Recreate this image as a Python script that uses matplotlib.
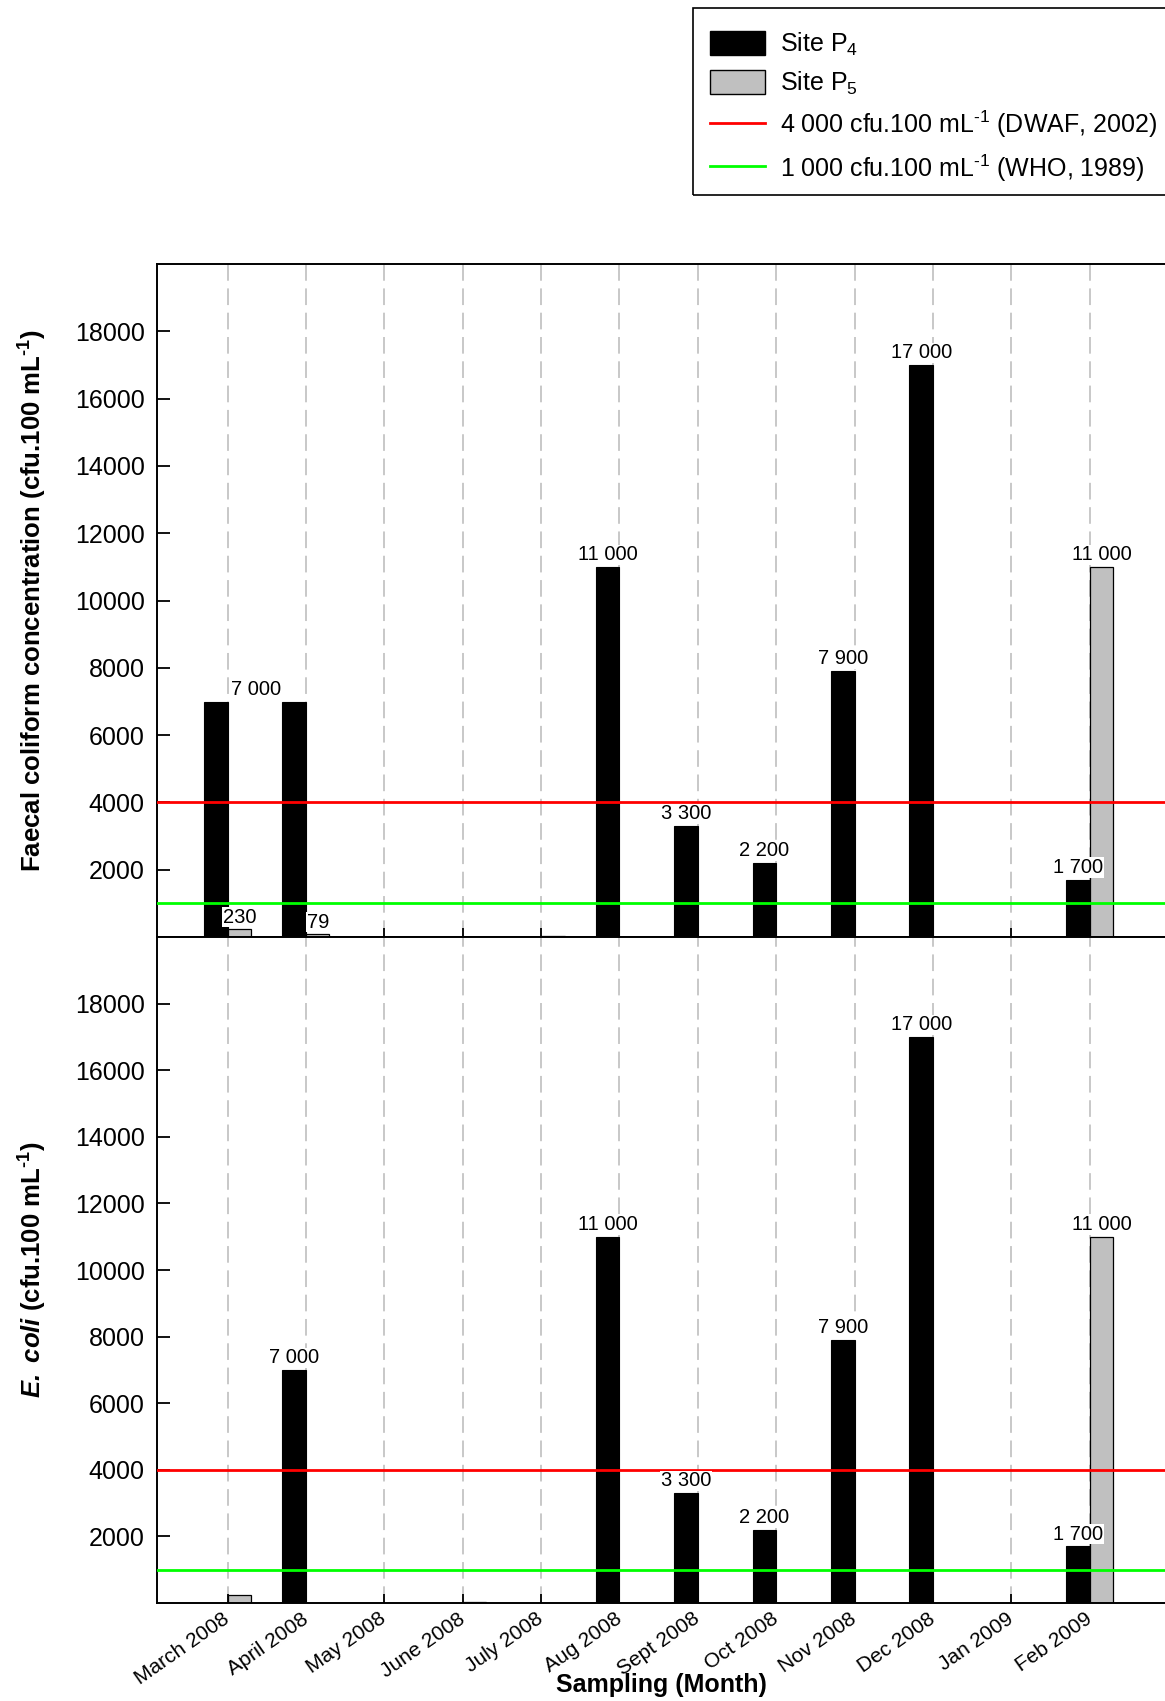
import matplotlib
matplotlib.use("Agg")
import matplotlib.pyplot as plt
import numpy as np
from matplotlib.patches import Rectangle, Patch
from matplotlib.lines import Line2D

plt.rcParams['font.family'] = ['Liberation Sans', 'DejaVu Sans']
plt.rcParams['mathtext.fontset'] = 'custom'
plt.rcParams['mathtext.rm'] = 'Liberation Sans'
plt.rcParams['mathtext.it'] = 'Liberation Sans:italic'
plt.rcParams['mathtext.bf'] = 'Liberation Sans:bold'
plt.rcParams['mathtext.bfit'] = 'Liberation Sans:italic:bold'
plt.rcParams['mathtext.default'] = 'regular'
plt.rcParams['lines.scale_dashes'] = False

# Sampling months
months = ["March 2008", "April 2008", "May 2008", "June 2008", "July 2008",
          "Aug 2008", "Sept 2008", "Oct 2008", "Nov 2008", "Dec 2008",
          "Jan 2009", "Feb 2009"]

# Faecal coliform counts (cfu.100 mL-1)
faecal_p4 = [7000, 7000, 0, 0, 0, 11000, 3300, 2200, 7900, 17000, 0, 1700]
faecal_p5 = [230, 79, 0, 0, 40, 0, 0, 0, 0, 0, 0, 11000]

# E. coli counts (cfu.100 mL-1)
ecoli_p4 = [0, 7000, 0, 0, 0, 11000, 3300, 2200, 7900, 17000, 0, 1700]
ecoli_p5 = [230, 0, 0, 30, 0, 0, 0, 0, 0, 0, 0, 11000]

# Guideline limits
dwaf_limit = 4000
who_limit = 1000

# Which bars carry value labels: (month index, site)
faecal_labelled = [(0, "P4"), (0, "P5"), (1, "P5"), (5, "P4"), (6, "P4"),
                   (7, "P4"), (8, "P4"), (9, "P4"), (11, "P4"), (11, "P5")]
ecoli_labelled = [(1, "P4"), (5, "P4"), (6, "P4"), (7, "P4"), (8, "P4"),
                  (9, "P4"), (11, "P4"), (11, "P5")]

BAR_W = 0.3
FS = 18
SUP = "$^{\u2010" + "1}$"   # superscript -1 drawn with a plain hyphen

fig = plt.figure(figsize=(11.65, 17.01), dpi=100)
ax1 = fig.add_axes([0.1348, 0.4491, 0.8652, 0.3957])
ax2 = fig.add_axes([0.1348, 0.0576, 0.8652, 0.3915], sharex=ax1)

x = np.arange(len(months))


def fmt(v):
    return f"{v:,}".replace(",", " ")


def draw_panel(ax, p4, p5, labelled, shared_label_shift=None):
    for xi in x:
        ax.axvline(xi, color="#c4c4c4", lw=1.3, ls=(0, (12, 5.5)), zorder=0)
    ax.bar(x - BAR_W / 2, p4, width=BAR_W, color="black", edgecolor="black",
           lw=0.8, zorder=2)
    ax.bar(x + BAR_W / 2, p5, width=BAR_W, color="#c0c0c0", edgecolor="black",
           lw=0.9, zorder=2)
    ax.axhline(dwaf_limit, color="#ff0000", lw=2.0, zorder=3)
    ax.axhline(who_limit, color="#00ff00", lw=2.0, zorder=3)
    for i, site in labelled:
        if site == "P4":
            v, xc = p4[i], i - BAR_W / 2
        else:
            v, xc = p5[i], i + BAR_W / 2
        if shared_label_shift is not None and (i, site) == shared_label_shift[0]:
            xc = shared_label_shift[1]
        ax.annotate(fmt(v), (xc, v), xytext=(0, 2), textcoords="offset points",
                    ha="center", va="bottom", fontsize=14.5, zorder=4,
                    bbox=dict(facecolor="white", edgecolor="none", pad=0.5))
    ax.set_ylim(0, 20000)
    ax.set_xlim(-0.9, 11.96)
    ax.set_yticks(np.arange(2000, 18001, 2000))
    ax.tick_params(axis="y", direction="in", length=9, width=1.3,
                   labelsize=FS, pad=9)
    ax.tick_params(axis="x", direction="in", length=6.5, width=1.3)
    for s in ("left", "top", "bottom"):
        ax.spines[s].set_linewidth(1.4)
    ax.spines["right"].set_visible(False)


# The single "7 000" label in the top panel sits between the March and April bars
draw_panel(ax1, faecal_p4, faecal_p5, faecal_labelled,
           shared_label_shift=((0, "P4"), 0.36))
draw_panel(ax2, ecoli_p4, ecoli_p5, ecoli_labelled)

ax1.tick_params(axis="x", labelbottom=False)
ax2.set_xticks(x)
ax2.set_xticklabels(months, rotation=35, ha="right", va="center",
                    rotation_mode="anchor", fontsize=15)
ax2.tick_params(axis="x", pad=10)

ax1.set_ylabel("Faecal coliform concentration (cfu.100 mL" + SUP + ")",
               fontsize=18.5, fontweight="bold")
ax2.set_ylabel(r"$\mathbfit{E.\ coli}$ (cfu.100 mL" + SUP + ")",
               fontsize=18.5, fontweight="bold")
ax1.yaxis.set_label_coords(-0.107, 0.5)
ax2.yaxis.set_label_coords(-0.107, 0.5)
ax2.set_xlabel("Sampling (Month)", fontsize=FS, fontweight="bold")
ax2.xaxis.set_label_coords(0.5, -0.123)
ax2.xaxis.label.set_va("center")

# Legend with a framed box running off the right edge
fig.patches.append(Rectangle((0.5948, 0.8854), 0.42, 0.110,
                             transform=fig.transFigure, fill=False,
                             edgecolor="black", lw=1.2))
handles = [Patch(facecolor="black", edgecolor="black"),
           Patch(facecolor="#c0c0c0", edgecolor="black"),
           Line2D([], [], color="#ff0000", lw=2.0),
           Line2D([], [], color="#00ff00", lw=2.0)]
labels = [r"Site P$_4$", r"Site P$_5$",
          "4 000 cfu.100 mL" + SUP + " (DWAF, 2002)",
          "1 000 cfu.100 mL" + SUP + " (WHO, 1989)"]
fig.legend(handles, labels, loc="upper left", bbox_to_anchor=(0.603, 0.9865),
           frameon=False, fontsize=FS, handlelength=2.2, handleheight=1.1,
           handletextpad=0.6, labelspacing=0.48, borderpad=0.3,
           borderaxespad=0)

fig.savefig("out.png", dpi=100)
